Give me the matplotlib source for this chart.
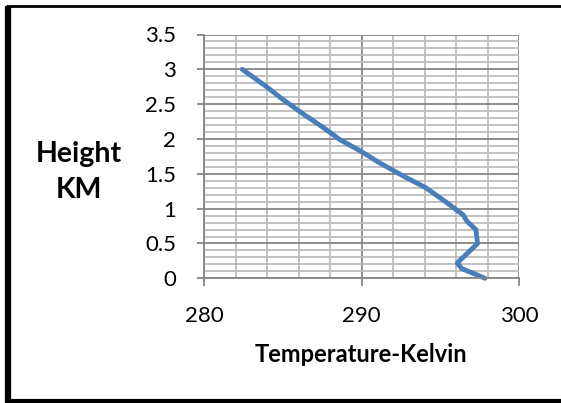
import matplotlib
matplotlib.use("Agg")
import matplotlib.pyplot as plt
from matplotlib.lines import Line2D
from matplotlib.ticker import MultipleLocator

# temperature profile
temperature_k = [297.84, 296.36, 296.08, 297.37, 297.26, 296.69, 296.46, 295.33,
                 294.08, 292.72, 291.13, 289.99, 288.63, 287.6, 286.36, 284.99,
                 283.97, 282.43]
height_km = [0.0, 0.14, 0.22, 0.50, 0.70, 0.82, 0.91, 1.10,
             1.30, 1.46, 1.66, 1.82, 1.99, 2.16, 2.35, 2.57,
             2.75, 3.0]

x_ticks = [280, 290, 300]
y_ticks = [0, 0.5, 1, 1.5, 2, 2.5, 3, 3.5]
y_tick_labels = ["0", "0.5", "1", "1.5", "2", "2.5", "3", "3.5"]

plt.rcParams["font.family"] = ["Lato", "DejaVu Sans"]

W, H = 561, 403
fig = plt.figure(figsize=(W / 100, H / 100), dpi=100)
ax = fig.add_axes([204 / W, 1 - 278.3 / H, (519 - 204) / W, (278.3 - 34.5) / H])

ax.set_xlim(280, 300)
ax.set_ylim(0, 3.5)
ax.set_xticks(x_ticks)
ax.set_yticks(y_ticks)
ax.set_yticklabels(y_tick_labels)
ax.xaxis.set_minor_locator(MultipleLocator(2))
ax.yaxis.set_minor_locator(MultipleLocator(0.1))

ax.grid(which="minor", color="#bdbdbd", linewidth=1.3)
ax.grid(which="major", color="#868686", linewidth=1.3)
ax.set_axisbelow(True)
ax.tick_params(which="minor", length=0)
ax.tick_params(which="major", color="#868686", width=1.3)
ax.tick_params(axis="y", length=5, pad=15, labelsize=16)
ax.tick_params(axis="x", length=6, pad=14, labelsize=16)
for side in ("top", "right"):
    ax.spines[side].set_visible(False)
for side in ("left", "bottom"):
    ax.spines[side].set_color("#868686")
    ax.spines[side].set_linewidth(1.3)

ax.plot(temperature_k, height_km, color="#4a7ebb", linewidth=3.5,
        solid_capstyle="round", solid_joinstyle="round", clip_on=False)

fig.text(79 / W, 1 - 172 / H, "Height\nKM", ha="center", va="center",
         fontsize=20.5, fontweight="bold", linespacing=1.45)
fig.text(361 / W, 1 - 355 / H, "Temperature-Kelvin", ha="center", va="center",
         fontsize=17, fontweight="bold")

# outer frame: top, left and bottom edges only (right edge is cut off)
frame = [((5.5, 561), (6, 6), 2.0),
         ((8, 8), (6, 403), 4.5),
         ((5.5, 561), (401, 401), 3.0)]
for xs, ys, lw in frame:
    fig.add_artist(Line2D([x / W for x in xs], [1 - y / H for y in ys],
                          transform=fig.transFigure, color="black",
                          linewidth=lw, solid_capstyle="butt"))

fig.savefig("out.png", dpi=100)
